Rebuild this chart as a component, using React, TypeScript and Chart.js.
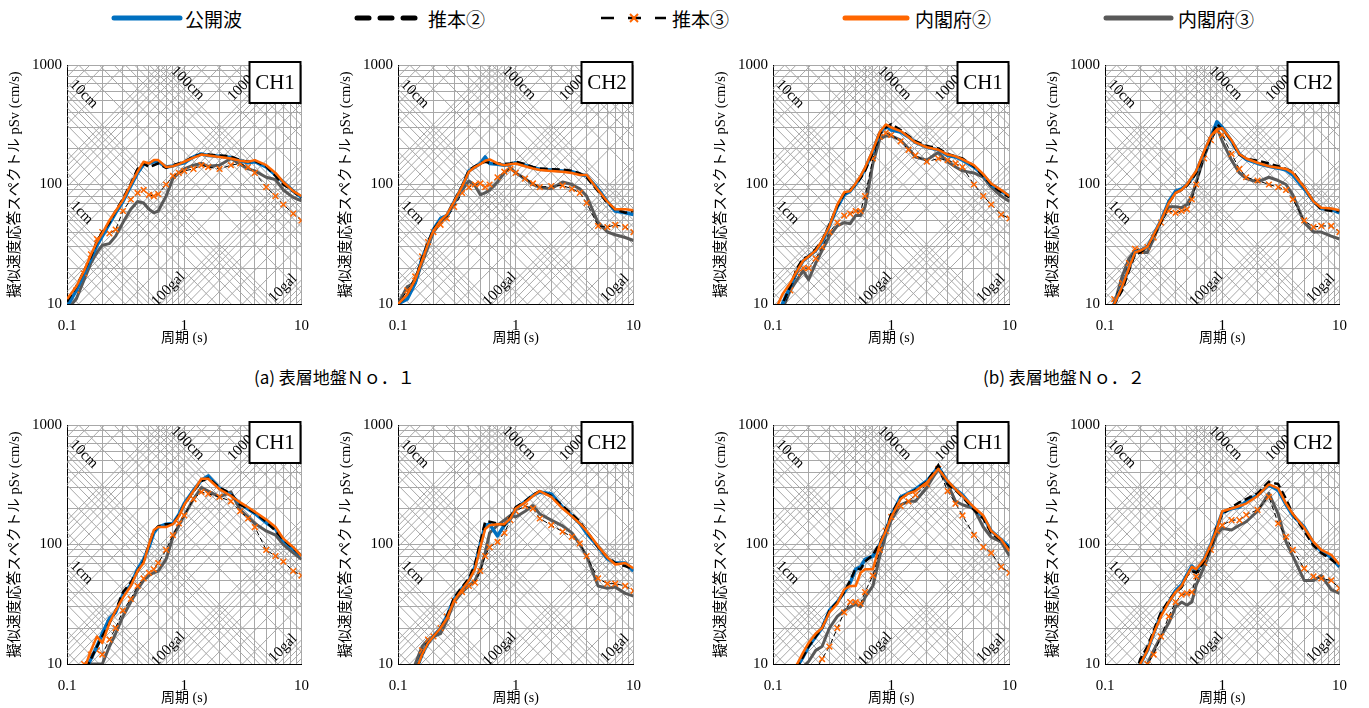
import React, { useEffect, useRef } from 'react';
import { Chart, registerables } from 'chart.js';

Chart.register(...registerables);

// ---------------- data ----------------
const PERIODS = [0.1, 0.12, 0.14, 0.16, 0.18, 0.2, 0.23, 0.26, 0.3, 0.35, 0.4, 0.45, 0.5, 0.55, 0.6, 0.7, 0.8, 0.9, 1.0, 1.2, 1.4, 1.6, 2.0, 2.5, 3.0, 3.5, 4.0, 5.0, 6.0, 7.0, 8.5, 10];

const X_TICKS = [0.1, 0.2, 0.3, 0.4, 0.5, 0.6, 0.7, 0.8, 0.9, 1, 2, 3, 4, 5, 6, 7, 8, 9, 10];
const Y_TICKS = [10, 20, 30, 40, 50, 60, 70, 80, 90, 100, 200, 300, 400, 500, 600, 700, 800, 900, 1000];
const X_TICK_LABELS = [0.1, 1, 10];
const Y_TICK_LABELS = [10, 100, 1000];

// displacement lines (cm) and acceleration lines (gal) of the tripartite grid
const SD_LINES_CM = [0.1, 0.2, 0.3, 0.4, 0.5, 0.6, 0.7, 0.8, 0.9, 1, 2, 3, 4, 5, 6, 7, 8, 9, 10, 20, 30, 40, 50, 60, 70, 80, 90, 100, 200, 300, 400, 500, 600, 700, 800, 900, 1000, 2000];
const SA_LINES_GAL = [6, 7, 8, 9, 10, 20, 30, 40, 50, 60, 70, 80, 90, 100, 200, 300, 400, 500, 600, 700, 800, 900, 1000, 2000, 3000, 4000, 5000, 6000, 7000, 8000, 9000, 10000, 20000, 30000, 40000, 50000, 60000];

const SERIES_NAMES = ['公開波', '推本②', '推本③', '内閣府②', '内閣府③'];
const PANEL_LABELS = ['CH1', 'CH2', 'CH1', 'CH2', 'CH1', 'CH2', 'CH1', 'CH2'];
const CAPTIONS = ['(a) 表層地盤Ｎｏ．１', '(b) 表層地盤Ｎｏ．２'];
const X_TITLE = '周期 (s)';
const Y_TITLE = '擬似速度応答スペクトル pSv (cm/s)';

// (a) CH1
const A1_KOKAI = [9.5, 13, 18, 24, 31, 37, 47, 58, 72, 97, 125, 148, 150, 155, 155, 140, 143, 148, 152, 170, 180, 175, 172, 168, 158, 152, 155, 140, 120, 105, 88, 78];
const A1_SUIHON2 = [10.5, 14, 19, 25, 33, 40, 48, 60, 76, 102, 135, 150, 140, 145, 150, 138, 145, 150, 155, 172, 178, 178, 175, 172, 160, 155, 158, 142, 118, 100, 88, 77];
const A1_SUIHON3 = [10, 13, 18, 26, 35, 40, 39, 42, 60, 75, 85, 90, 82, 80, 83, 100, 118, 125, 130, 135, 145, 140, 135, 145, 150, 140, 125, 95, 80, 68, 57, 50];
const A1_NAIKAKU2 = [11, 14, 19, 26, 33, 39, 50, 60, 74, 100, 128, 155, 150, 160, 160, 140, 142, 148, 155, 168, 178, 175, 170, 165, 158, 155, 160, 145, 125, 105, 88, 80];
const A1_NAIKAKU3 = [9, 11, 16, 22, 27, 31, 32, 37, 48, 62, 72, 70, 62, 58, 60, 80, 112, 125, 135, 145, 150, 142, 145, 165, 148, 135, 130, 115, 110, 90, 78, 73];
// (a) CH2
const A2_KOKAI = [10, 11, 15, 24, 32, 42, 52, 55, 72, 95, 130, 140, 150, 170, 150, 148, 145, 148, 152, 145, 138, 134, 132, 130, 128, 122, 118, 92, 72, 60, 58, 56];
const A2_SUIHON2 = [10, 12, 16, 24, 33, 42, 50, 55, 73, 97, 132, 142, 150, 155, 152, 150, 148, 150, 155, 148, 140, 136, 134, 133, 130, 124, 115, 88, 70, 62, 58, 60];
const A2_SUIHON3 = [10, 13, 17, 25, 33, 40, 46, 52, 65, 85, 95, 100, 102, 95, 100, 115, 128, 135, 125, 112, 102, 95, 97, 98, 92, 85, 70, 45, 44, 46, 44, 40];
const A2_NAIKAKU2 = [10, 12, 16, 23, 32, 41, 50, 56, 72, 96, 128, 140, 148, 158, 162, 150, 145, 148, 150, 142, 136, 132, 130, 128, 125, 120, 120, 90, 72, 62, 62, 61];
const A2_NAIKAKU3 = [10, 14, 15, 22, 30, 40, 48, 55, 70, 90, 107, 98, 82, 85, 90, 105, 125, 138, 125, 112, 100, 95, 92, 105, 100, 92, 80, 48, 40, 38, 36, 34];
// (b) CH1
const B1_KOKAI = [7, 10, 14, 19, 23, 25, 28, 33, 45, 65, 82, 88, 100, 115, 135, 190, 270, 310, 285, 275, 250, 225, 205, 195, 175, 170, 160, 140, 120, 100, 88, 80];
const B1_SUIHON2 = [7, 10, 14, 20, 24, 25, 29, 34, 46, 66, 84, 90, 100, 113, 130, 185, 265, 300, 320, 285, 255, 230, 210, 200, 180, 172, 165, 142, 118, 100, 86, 78];
const B1_SUIHON3 = [6, 9, 13, 18, 20, 20, 24, 30, 40, 48, 55, 57, 60, 60, 80, 165, 250, 270, 260, 230, 195, 175, 155, 165, 160, 150, 140, 100, 80, 68, 56, 52];
const B1_NAIKAKU2 = [8, 12, 15, 19, 23, 25, 28, 34, 45, 68, 86, 88, 102, 118, 138, 195, 275, 318, 300, 280, 250, 225, 205, 195, 178, 172, 162, 145, 122, 102, 90, 80];
const B1_NAIKAKU3 = [6, 9, 13, 16, 19, 16, 22, 28, 37, 45, 48, 47, 55, 55, 65, 150, 240, 255, 255, 235, 200, 170, 160, 185, 155, 140, 130, 125, 115, 95, 80, 72];
// (b) CH2
const B2_KOKAI = [8, 10, 14, 20, 27, 28, 30, 38, 50, 72, 88, 92, 100, 112, 128, 185, 250, 335, 300, 230, 180, 162, 150, 142, 137, 132, 120, 92, 72, 63, 62, 58];
const B2_SUIHON2 = [8, 10, 13, 19, 26, 27, 30, 37, 48, 70, 85, 90, 98, 110, 125, 180, 245, 320, 290, 232, 178, 165, 158, 150, 142, 135, 128, 95, 72, 62, 60, 60];
const B2_SUIHON3 = [8, 11, 15, 22, 29, 28, 30, 36, 48, 60, 58, 60, 62, 75, 100, 165, 235, 280, 260, 180, 135, 115, 108, 100, 95, 90, 75, 50, 44, 45, 45, 40];
const B2_NAIKAKU2 = [8, 10, 14, 20, 27, 28, 30, 38, 50, 70, 85, 90, 100, 115, 130, 190, 255, 290, 295, 235, 180, 165, 152, 142, 138, 135, 125, 95, 72, 64, 63, 61];
const B2_NAIKAKU3 = [8, 10, 17, 24, 28, 27, 27, 35, 50, 65, 65, 64, 68, 80, 105, 170, 240, 300, 230, 160, 125, 112, 105, 115, 108, 100, 82, 48, 40, 40, 37, 35];
// (c) CH1
const C1_KOKAI = [5, 6.5, 8.5, 11, 14, 18, 24, 27, 38, 46, 62, 75, 95, 125, 140, 148, 150, 178, 220, 285, 345, 375, 295, 260, 220, 198, 182, 152, 135, 108, 92, 80];
const C1_SUIHON2 = [5, 6.5, 8.5, 11, 14, 17, 22, 28, 40, 48, 60, 72, 100, 130, 142, 148, 148, 175, 215, 280, 340, 360, 300, 265, 215, 200, 185, 155, 130, 110, 93, 80];
const C1_SUIHON3 = [5, 7, 10, 12, 13, 12, 16, 20, 28, 35, 45, 52, 58, 62, 70, 90, 120, 150, 175, 240, 275, 265, 250, 230, 190, 165, 140, 90, 80, 72, 60, 55];
const C1_NAIKAKU2 = [5.5, 7, 9, 13, 17, 15, 22, 28, 36, 45, 60, 70, 100, 132, 140, 140, 148, 172, 215, 280, 355, 355, 290, 255, 225, 205, 188, 162, 140, 112, 95, 80];
const C1_NAIKAKU3 = [4, 6, 8, 10, 10, 10, 14, 18, 25, 33, 42, 50, 55, 58, 60, 75, 115, 145, 175, 240, 300, 280, 250, 275, 195, 170, 150, 130, 120, 100, 85, 75];
// (c) CH2
const C2_KOKAI = [5, 6.5, 8.5, 12, 15, 17, 20, 25, 35, 43, 50, 65, 100, 145, 148, 118, 145, 165, 200, 228, 258, 275, 265, 205, 175, 150, 124, 96, 76, 70, 70, 60];
const C2_SUIHON2 = [5, 6.5, 8.5, 12, 15, 17, 20, 25, 36, 44, 52, 68, 105, 155, 155, 150, 145, 170, 205, 230, 260, 280, 255, 210, 180, 155, 130, 95, 78, 70, 66, 62];
const C2_SUIHON3 = [4, 6, 9, 13, 16, 17, 20, 25, 34, 40, 45, 48, 60, 80, 95, 105, 125, 160, 190, 210, 200, 165, 145, 128, 116, 102, 80, 52, 47, 47, 45, 41];
const C2_NAIKAKU2 = [5, 6.5, 8.5, 12, 15, 17, 20, 24, 34, 42, 50, 62, 95, 135, 145, 148, 148, 165, 200, 225, 255, 280, 250, 200, 172, 150, 130, 97, 78, 68, 70, 63];
const C2_NAIKAKU3 = [4, 6, 10, 14, 16, 17, 18, 23, 33, 40, 45, 50, 62, 85, 125, 145, 160, 175, 170, 190, 212, 180, 160, 143, 125, 100, 80, 45, 43, 44, 39, 37];
// (d) CH1
const D1_KOKAI = [4, 5.5, 7.5, 9.5, 11.5, 14, 17, 20, 28, 33, 40, 48, 62, 65, 75, 80, 100, 130, 175, 250, 270, 290, 340, 445, 335, 290, 260, 200, 170, 130, 110, 95];
const D1_SUIHON2 = [4, 5.5, 7.5, 9.5, 11.5, 14, 17, 20, 28, 33, 40, 50, 63, 62, 72, 82, 102, 132, 180, 245, 265, 285, 335, 460, 320, 285, 250, 195, 165, 125, 108, 92];
const D1_SUIHON3 = [3, 4, 5, 6.5, 8, 8, 9, 11, 14, 20, 27, 33, 33, 32, 40, 55, 90, 130, 170, 210, 230, 260, 320, 430, 280, 220, 175, 120, 95, 85, 65, 58];
const D1_NAIKAKU2 = [4, 5.5, 8, 10, 12.5, 15, 18, 20, 27, 32, 42, 45, 45, 58, 62, 62, 100, 130, 170, 240, 268, 280, 330, 430, 340, 290, 255, 205, 175, 130, 110, 88];
const D1_NAIKAKU3 = [3.5, 4.5, 6, 8, 9.5, 10.5, 13, 14, 20, 25, 28, 30, 32, 30, 36, 45, 80, 120, 160, 215, 230, 230, 300, 430, 320, 230, 215, 200, 140, 115, 105, 80];
// (d) CH2
const D2_KOKAI = [3, 4, 5, 6.5, 8, 10, 13, 18, 26, 33, 41, 46, 56, 66, 60, 75, 100, 140, 185, 200, 205, 230, 258, 315, 285, 215, 175, 140, 102, 88, 78, 65];
const D2_SUIHON2 = [3, 4, 5, 6.5, 8, 11, 14, 19, 27, 34, 40, 44, 55, 60, 58, 72, 95, 140, 180, 205, 225, 240, 268, 335, 320, 240, 180, 130, 98, 85, 75, 66];
const D2_SUIHON3 = [2.5, 3.5, 4.5, 5.5, 7, 8, 10, 12, 17, 25, 33, 38, 39, 40, 54, 70, 90, 130, 145, 160, 160, 177, 195, 250, 150, 116, 90, 63, 54, 52, 50, 43];
const D2_NAIKAKU2 = [3, 4, 5, 6.5, 8, 10, 13, 18, 25, 33, 40, 45, 55, 65, 62, 75, 100, 135, 190, 200, 210, 220, 255, 318, 295, 220, 180, 138, 105, 90, 82, 68];
const D2_NAIKAKU3 = [2.5, 3.5, 4.5, 5.5, 7, 8, 10, 13, 17, 22, 30, 33, 31, 33, 46, 65, 90, 122, 137, 132, 145, 155, 190, 268, 180, 105, 80, 50, 50, 55, 42, 39];

// order of each group: 公開波, 推本②, 推本③, 内閣府②, 内閣府③
const PANEL_SERIES = [
  [A1_KOKAI, A1_SUIHON2, A1_SUIHON3, A1_NAIKAKU2, A1_NAIKAKU3],
  [A2_KOKAI, A2_SUIHON2, A2_SUIHON3, A2_NAIKAKU2, A2_NAIKAKU3],
  [B1_KOKAI, B1_SUIHON2, B1_SUIHON3, B1_NAIKAKU2, B1_NAIKAKU3],
  [B2_KOKAI, B2_SUIHON2, B2_SUIHON3, B2_NAIKAKU2, B2_NAIKAKU3],
  [C1_KOKAI, C1_SUIHON2, C1_SUIHON3, C1_NAIKAKU2, C1_NAIKAKU3],
  [C2_KOKAI, C2_SUIHON2, C2_SUIHON3, C2_NAIKAKU2, C2_NAIKAKU3],
  [D1_KOKAI, D1_SUIHON2, D1_SUIHON3, D1_NAIKAKU2, D1_NAIKAKU3],
  [D2_KOKAI, D2_SUIHON2, D2_SUIHON3, D2_NAIKAKU2, D2_NAIKAKU3],
];

// ---------------- layout & style ----------------
const PANEL_BOXES = [
  { left: 67, top: 65, right: 307, bottom: 304 },
  { left: 398, top: 65, right: 639, bottom: 304 },
  { left: 773, top: 65, right: 1015, bottom: 304 },
  { left: 1105, top: 65, right: 1345, bottom: 304 },
  { left: 67, top: 425, right: 307, bottom: 664 },
  { left: 398, top: 425, right: 639, bottom: 664 },
  { left: 773, top: 425, right: 1015, bottom: 664 },
  { left: 1105, top: 425, right: 1345, bottom: 664 },
];

// labels of the diagonal lines, placed in data coordinates (period, pSv)
const DIAG_LABELS = [
  { text: '10cm', t: 0.139, sv: 571, kind: 'sd' },
  { text: '100cm', t: 1.07, sv: 703, kind: 'sd' },
  { text: '1cm', t: 0.133, sv: 58, kind: 'sd' },
  { text: '1000gal', t: 3.44, sv: 726, kind: 'sa' },
  { text: '100gal', t: 0.73, sv: 13.3, kind: 'sa' },
  { text: '10gal', t: 6.95, sv: 13.5, kind: 'sa' },
];

const AXIS_W = 67;
const PAD_TOP = 20;
const PAD_RIGHT = 15;
const X_AXIS_H = 46;

const BLUE = '#0070C0';
const ORANGE = '#FF6600';
const GREY = '#595959';
const GRID = '#A8A8A8';
const SERIF = "'Liberation Serif', 'Times New Roman', serif";
const JP_SERIF = "'Liberation Serif', 'Noto Sans CJK JP', serif";
const JP = "'Noto Sans CJK JP', 'Liberation Serif', sans-serif";

function makeTripartitePlugin(label: string) {
  return {
    id: 'tripartite',
    beforeDatasetsDraw(chart: any) {
      const { ctx, chartArea: a, scales } = chart;
      const x = scales.x, y = scales.y;
      const t0 = 0.1, t1 = 10;
      ctx.save();
      ctx.beginPath();
      ctx.rect(a.left, a.top, a.right - a.left, a.bottom - a.top);
      ctx.clip();
      ctx.strokeStyle = GRID;
      ctx.lineWidth = 1;
      ctx.beginPath();
      for (const sd of SD_LINES_CM) {
        ctx.moveTo(x.getPixelForValue(t0), y.getPixelForValue((2 * Math.PI * sd) / t0));
        ctx.lineTo(x.getPixelForValue(t1), y.getPixelForValue((2 * Math.PI * sd) / t1));
      }
      for (const sa of SA_LINES_GAL) {
        ctx.moveTo(x.getPixelForValue(t0), y.getPixelForValue((sa * t0) / (2 * Math.PI)));
        ctx.lineTo(x.getPixelForValue(t1), y.getPixelForValue((sa * t1) / (2 * Math.PI)));
      }
      ctx.stroke();

      const angSd = Math.atan2(
        y.getPixelForValue(2 * Math.PI / t1) - y.getPixelForValue(2 * Math.PI / t0),
        x.getPixelForValue(t1) - x.getPixelForValue(t0)
      );
      const angSa = Math.atan2(
        y.getPixelForValue(t1 / (2 * Math.PI)) - y.getPixelForValue(t0 / (2 * Math.PI)),
        x.getPixelForValue(t1) - x.getPixelForValue(t0)
      );
      ctx.fillStyle = '#000';
      ctx.font = `15px ${SERIF}`;
      ctx.textAlign = 'center';
      ctx.textBaseline = 'middle';
      for (const l of DIAG_LABELS) {
        ctx.save();
        ctx.translate(x.getPixelForValue(l.t), y.getPixelForValue(l.sv));
        ctx.rotate(l.kind === 'sd' ? angSd : angSa);
        ctx.fillText(l.text, 0, 0);
        ctx.restore();
      }
      ctx.restore();
    },
    afterDatasetsDraw(chart: any) {
      const { ctx, chartArea: a } = chart;
      const w = 51, h = 41;
      const rx = a.right - 1 - w, ry = a.top - 3;
      ctx.save();
      ctx.fillStyle = '#fff';
      ctx.fillRect(rx, ry, w, h);
      ctx.strokeStyle = '#000';
      ctx.lineWidth = 2;
      ctx.strokeRect(rx, ry, w, h);
      ctx.fillStyle = '#000';
      ctx.font = `21px ${SERIF}`;
      ctx.textAlign = 'center';
      ctx.textBaseline = 'middle';
      ctx.fillText(label, rx + w / 2, ry + h / 2 + 1);
      ctx.restore();
    },
  };
}

function buildConfig(idx: number): any {
  const [kokai, suihon2, suihon3, naikaku2, naikaku3] = PANEL_SERIES[idx];
  const mk = (vals: number[]) => PERIODS.map((t, i) => ({ x: t, y: vals[i] }));
  return {
    type: 'line',
    data: {
      datasets: [
        { label: SERIES_NAMES[3], data: mk(naikaku2), borderColor: ORANGE, borderWidth: 2.5, pointRadius: 0, borderJoinStyle: 'round' },
        { label: SERIES_NAMES[1], data: mk(suihon2), borderColor: '#000', borderWidth: 2.5, borderDash: [8, 4], pointRadius: 0 },
        { label: SERIES_NAMES[0], data: mk(kokai), borderColor: BLUE, borderWidth: 3.5, pointRadius: 0, borderJoinStyle: 'round' },
        {
          label: SERIES_NAMES[2], data: mk(suihon3), borderColor: '#000', borderWidth: 1, borderDash: [5, 3],
          pointStyle: 'crossRot', pointRadius: 4, pointBorderColor: ORANGE, pointBackgroundColor: ORANGE, pointBorderWidth: 1.5,
        },
        { label: SERIES_NAMES[4], data: mk(naikaku3), borderColor: GREY, borderWidth: 3, pointRadius: 0, borderJoinStyle: 'round' },
      ],
    },
    options: {
      responsive: false,
      animation: false,
      events: [],
      layout: { padding: { left: 0, right: PAD_RIGHT, top: PAD_TOP, bottom: 0 } },
      plugins: { legend: { display: false }, tooltip: { enabled: false } },
      elements: { line: { tension: 0 } },
      scales: {
        x: {
          type: 'logarithmic',
          min: 0.1,
          max: 10,
          afterBuildTicks: (s: any) => { s.ticks = X_TICKS.map((v) => ({ value: v })); },
          afterFit: (s: any) => { s.height = X_AXIS_H; },
          ticks: {
            autoSkip: false, maxRotation: 0, minRotation: 0, padding: 13, color: '#000',
            font: { family: SERIF, size: 15 },
            callback: (v: number) => (X_TICK_LABELS.includes(v) ? String(v) : ''),
          },
          grid: { color: GRID, lineWidth: 1, drawTicks: false },
          border: { color: '#000', width: 1 },
          title: { display: true, text: X_TITLE, color: '#000', font: { family: JP_SERIF, size: 14 }, padding: { top: 0, bottom: 3 } },
        },
        y: {
          type: 'logarithmic',
          min: 10,
          max: 1000,
          afterBuildTicks: (s: any) => { s.ticks = Y_TICKS.map((v) => ({ value: v })); },
          afterFit: (s: any) => { s.width = AXIS_W; },
          ticks: {
            autoSkip: false, padding: 5, color: '#000',
            font: { family: SERIF, size: 15 },
            callback: (v: number) => (Y_TICK_LABELS.includes(v) ? String(v) : ''),
          },
          grid: { color: GRID, lineWidth: 1, drawTicks: false },
          border: { color: '#000', width: 1 },
          title: { display: true, text: Y_TITLE, color: '#000', font: { family: JP_SERIF, size: 14.5 }, padding: { top: 6, bottom: 0 } },
        },
      },
    },
    plugins: [makeTripartitePlugin(PANEL_LABELS[idx])],
  };
}

function Panel({ idx }: { idx: number }) {
  const ref = useRef<HTMLCanvasElement>(null);
  const box = PANEL_BOXES[idx];
  const w = box.right - box.left + AXIS_W + PAD_RIGHT;
  const h = box.bottom - box.top + PAD_TOP + X_AXIS_H;
  useEffect(() => {
    const chart = new Chart(ref.current as HTMLCanvasElement, buildConfig(idx));
    return () => chart.destroy();
  }, [idx]);
  return (
    <canvas
      ref={ref}
      width={w}
      height={h}
      style={{ position: 'absolute', left: box.left - AXIS_W, top: box.top - PAD_TOP, width: w, height: h }}
    />
  );
}

function Legend() {
  const y = 18;
  const txt = { fontFamily: JP, fontSize: 19, fill: '#000', dominantBaseline: 'central' as const };
  return (
    <svg width={1369} height={40} style={{ position: 'absolute', left: 0, top: 0 }}>
      <line x1={114} y1={y} x2={180} y2={y} stroke={BLUE} strokeWidth={5} strokeLinecap="round" />
      <text x={185} y={y} {...txt}>{SERIES_NAMES[0]}</text>

      <line x1={357} y1={y} x2={369} y2={y} stroke="#000" strokeWidth={5} strokeLinecap="round" />
      <line x1={380} y1={y} x2={392} y2={y} stroke="#000" strokeWidth={5} strokeLinecap="round" />
      <line x1={403} y1={y} x2={415} y2={y} stroke="#000" strokeWidth={5} strokeLinecap="round" />
      <text x={428} y={y} {...txt}>{SERIES_NAMES[1]}</text>

      <line x1={601} y1={y} x2={614} y2={y} stroke="#000" strokeWidth={2.5} />
      <line x1={628} y1={y} x2={641} y2={y} stroke="#000" strokeWidth={2.5} />
      <line x1={655} y1={y} x2={666} y2={y} stroke="#000" strokeWidth={2.5} />
      <line x1={630} y1={y - 4} x2={638} y2={y + 4} stroke={ORANGE} strokeWidth={2} />
      <line x1={630} y1={y + 4} x2={638} y2={y - 4} stroke={ORANGE} strokeWidth={2} />
      <text x={672} y={y} {...txt}>{SERIES_NAMES[2]}</text>

      <line x1={845} y1={y} x2={907} y2={y} stroke={ORANGE} strokeWidth={5} strokeLinecap="round" />
      <text x={915} y={y} {...txt}>{SERIES_NAMES[3]}</text>

      <line x1={1106} y1={y} x2={1171} y2={y} stroke={GREY} strokeWidth={5} strokeLinecap="round" />
      <text x={1178} y={y} {...txt}>{SERIES_NAMES[4]}</text>
    </svg>
  );
}

function Captions() {
  const txt = { fontFamily: JP, fontSize: 17, fill: '#000', dominantBaseline: 'central' as const };
  return (
    <svg width={1369} height={30} style={{ position: 'absolute', left: 0, top: 361 }}>
      <text x={254} y={15} {...txt}>{CAPTIONS[0]}</text>
      <text x={983} y={15} {...txt}>{CAPTIONS[1]}</text>
    </svg>
  );
}

export default function App() {
  return (
    <div style={{ position: 'absolute', left: 0, top: 0, width: 1369, height: 708, overflow: 'hidden', background: '#fff' }}>
      <Legend />
      {PANEL_BOXES.map((_, i) => (
        <Panel key={i} idx={i} />
      ))}
      <Captions />
    </div>
  );
}
